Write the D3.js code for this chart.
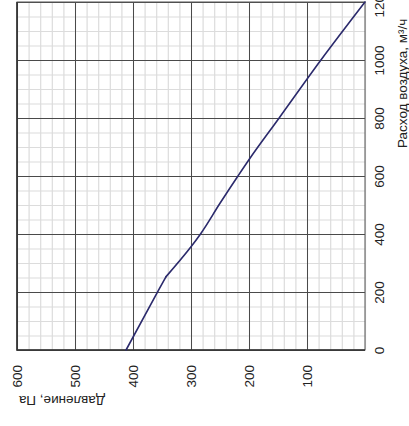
<!DOCTYPE html>
<html lang="ru">
<head>
<meta charset="utf-8">
<title>Давление / расход воздуха</title>
<script src="https://d3js.org/d3.v7.min.js"></script>
<style>
  body { margin: 0; background: #fff; }
  text { font-family: "Liberation Sans", Arial, sans-serif; fill: #222; }
</style>
</head>
<body>
<script>
// curve: air flow (m3/h) vs pressure (Pa)
const flow     = [0, 210, 253, 356, 402, 506, 600, 662, 800, 1000, 1200];
const pressure = [412, 355, 343, 300, 283, 250, 219, 198, 148, 76, 0];

const pressureTicks = [600, 500, 400, 300, 200, 100];
const flowTicks = [0, 200, 400, 600, 800, 1000, 1200];

const width = 409, height = 426;
const plotL = 17, plotR = 365, plotT = 2, plotB = 350;

// chart is drawn turned by 90 degrees: pressure runs horizontally, flow vertically
const x = d3.scaleLinear().domain([600, 0]).range([plotL, plotR]);
const y = d3.scaleLinear().domain([0, 1200]).range([plotB, plotT]);

const svg = d3.select("body").append("svg")
  .attr("width", width)
  .attr("height", height);

// minor grid
svg.append("g")
  .attr("transform", `translate(0,${plotB})`)
  .call(d3.axisBottom(x).tickValues(d3.range(0, 601, 20)).tickSize(-(plotB - plotT)).tickFormat(""))
  .call(g => g.select(".domain").remove())
  .call(g => g.selectAll("line").attr("stroke", "#dcdcdc").attr("stroke-width", 1.2));

svg.append("g")
  .attr("transform", `translate(${plotL},0)`)
  .call(d3.axisLeft(y).tickValues(d3.range(0, 1201, 50)).tickSize(-(plotR - plotL)).tickFormat(""))
  .call(g => g.select(".domain").remove())
  .call(g => g.selectAll("line").attr("stroke", "#dcdcdc").attr("stroke-width", 1.2));

// major grid
svg.append("g")
  .attr("transform", `translate(0,${plotB})`)
  .call(d3.axisBottom(x).tickValues(pressureTicks).tickSize(-(plotB - plotT)).tickFormat(""))
  .call(g => g.select(".domain").remove())
  .call(g => g.selectAll("line").attr("stroke", "#4a4a4a").attr("stroke-width", 1));

svg.append("g")
  .attr("transform", `translate(${plotL},0)`)
  .call(d3.axisLeft(y).tickValues(flowTicks).tickSize(-(plotR - plotL)).tickFormat(""))
  .call(g => g.select(".domain").remove())
  .call(g => g.selectAll("line").attr("stroke", "#4a4a4a").attr("stroke-width", 1));

// frame
svg.append("rect")
  .attr("x", plotL).attr("y", plotT)
  .attr("width", plotR - plotL).attr("height", plotB - plotT)
  .attr("fill", "none")
  .attr("stroke", "#555")
  .attr("stroke-width", 1);

svg.append("path")
  .attr("d", `M${plotL},${plotT}V${plotB}H${plotR}`)
  .attr("fill", "none")
  .attr("stroke", "#333")
  .attr("stroke-width", 1.6);

// curve: straight up to the kink, smooth after it
const pts = flow.map((f, i) => [pressure[i], f]);
const kink = 2;
const line = d3.line().x(d => x(d[0])).y(d => y(d[1]));
svg.append("path")
  .datum(pts.slice(0, kink + 1))
  .attr("d", line)
  .attr("fill", "none")
  .attr("stroke", "#2b2a6c")
  .attr("stroke-width", 1.6)
  .attr("stroke-linecap", "round");
svg.append("path")
  .datum(pts.slice(kink))
  .attr("d", line.curve(d3.curveMonotoneY))
  .attr("fill", "none")
  .attr("stroke", "#2b2a6c")
  .attr("stroke-width", 1.6)
  .attr("stroke-linecap", "round");

// pressure labels (under the chart)
svg.append("g")
  .attr("transform", `translate(0,${plotB})`)
  .call(d3.axisBottom(x).tickValues(pressureTicks).tickSize(0).tickFormat(d3.format("d")))
  .call(g => g.select(".domain").remove())
  .call(g => g.selectAll("text")
    .attr("transform", "rotate(-90)")
    .attr("x", -15).attr("y", 0).attr("dy", "0.35em")
    .attr("text-anchor", "end")
    .attr("font-size", 13.5)
    .attr("font-family", "Liberation Sans, Arial, sans-serif")
    .attr("fill", "#222"));

// flow labels (right of the chart)
svg.append("g")
  .attr("transform", `translate(${plotR},0)`)
  .call(d3.axisRight(y).tickValues(flowTicks).tickSize(0).tickFormat(d3.format("d")))
  .call(g => g.select(".domain").remove())
  .call(g => g.selectAll("text")
    .attr("transform", "translate(14,0) rotate(-90)")
    .attr("x", 0).attr("y", 0).attr("dy", "0.35em")
    .attr("text-anchor", "middle")
    .attr("font-size", 13.5)
    .attr("font-family", "Liberation Sans, Arial, sans-serif")
    .attr("fill", "#222"));

// axis titles
svg.append("text")
  .attr("transform", "translate(407,148) rotate(-90)")
  .attr("font-size", 13.5)
  .text("Расход воздуха, м³/ч");

svg.append("text")
  .attr("transform", "translate(105,396) rotate(180)")
  .attr("font-size", 13.5)
  .text("Давление, Па");
</script>
</body>
</html>
